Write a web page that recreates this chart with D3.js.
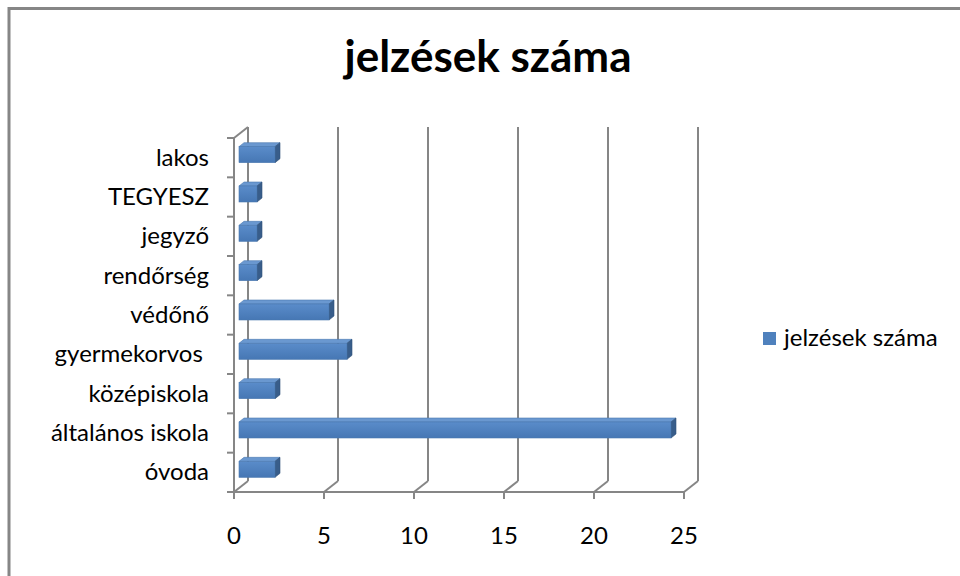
<!DOCTYPE html>
<html>
<head>
<meta charset="utf-8">
<script src="https://cdn.jsdelivr.net/npm/d3@7"></script>
<style>
  body { margin: 0; background: #fff; }
  text { font-family: Lato, "Open Sans", sans-serif; fill: #000; }
</style>
</head>
<body>
<div id="chart"></div>
<script>
// Categories from bottom to top, as Excel lists them
const categories = ['óvoda', 'általános iskola', 'középiskola', 'gyermekorvos ', 'védőnő',
  'rendőrség', 'jegyző', 'TEGYESZ', 'lakos'];
const values = [2, 24, 2, 6, 5, 1, 1, 1, 2];
const xTicks = [0, 5, 10, 15, 20, 25];
const seriesName = 'jelzések száma';

const width = 960, height = 576;
const gridColor = '#868686';

const svg = d3.select('#chart').append('svg')
  .attr('width', width)
  .attr('height', height);

// Outer chart frame (right/bottom edges fall off the picture)
svg.append('rect')
  .attr('x', 9).attr('y', 8.5)
  .attr('width', 1000).attr('height', 1000)
  .attr('fill', 'none')
  .attr('stroke', gridColor)
  .attr('stroke-width', 3);

// Scales
const x = d3.scaleLinear().domain([0, 25]).range([234, 684]);
const y = d3.scaleBand().domain(categories).range([492, 138]);

// 3D depth offset of the back wall
const dx = 14, dy = -11;
const yTop = y.range()[1], yBottom = y.range()[0];

const grid = svg.append('g')
  .attr('stroke', gridColor)
  .attr('stroke-width', 2)
  .attr('fill', 'none');

// Back wall gridlines and floor diagonals
xTicks.forEach(t => {
  grid.append('line')
    .attr('x1', x(t) + dx).attr('y1', yTop + dy)
    .attr('x2', x(t) + dx).attr('y2', yBottom + dy);
  grid.append('line')
    .attr('x1', x(t)).attr('y1', yBottom)
    .attr('x2', x(t) + dx).attr('y2', yBottom + dy);
});

// Left wall front edge and top diagonal
grid.append('line')
  .attr('x1', x(0)).attr('y1', yTop)
  .attr('x2', x(0)).attr('y2', yBottom);
grid.append('line')
  .attr('x1', x(0)).attr('y1', yTop)
  .attr('x2', x(0) + dx).attr('y2', yTop + dy);

// Floor front edge
grid.append('line')
  .attr('x1', x(0) - 7).attr('y1', yBottom)
  .attr('x2', x(25)).attr('y2', yBottom);

// Category ticks on the left wall
categories.forEach(c => {
  grid.append('line')
    .attr('x1', x(0) - 7).attr('y1', y(c))
    .attr('x2', x(0)).attr('y2', y(c));
});

// Value ticks below the floor
xTicks.forEach(t => {
  grid.append('line')
    .attr('x1', x(t)).attr('y1', yBottom)
    .attr('x2', x(t)).attr('y2', yBottom + 7);
});

// Value tick labels
svg.append('g').selectAll('text')
  .data(xTicks)
  .enter().append('text')
  .attr('x', d => x(d))
  .attr('y', 544)
  .attr('text-anchor', 'middle')
  .style('font-size', '24px')
  .text(d => d);

// Category labels
svg.append('g').selectAll('text')
  .data(categories)
  .enter().append('text')
  .attr('x', 209)
  .attr('y', d => y(d) + y.bandwidth() / 2 + 8)
  .attr('text-anchor', 'end')
  .style('font-size', '24px')
  .style('white-space', 'pre')
  .text(d => d);

// Gradients for the 3D bars
const defs = svg.append('defs');
const front = defs.append('linearGradient')
  .attr('id', 'barFront').attr('x1', 0).attr('y1', 0).attr('x2', 0).attr('y2', 1);
front.append('stop').attr('offset', '0%').attr('stop-color', '#5a8cca');
front.append('stop').attr('offset', '100%').attr('stop-color', '#4677b4');

// Bars
const bw = 16, ox = 5, bdx = 5, bdy = -4;
const data = categories.map((c, i) => ({ cat: c, value: values[i] }));

const bars = svg.append('g').selectAll('g')
  .data(data)
  .enter().append('g');

const barY = d => y(d.cat) + y.bandwidth() / 2 - 11;

// top face
bars.append('polygon')
  .attr('points', d => {
    const x0 = x(0) + ox, x1 = x(d.value) + ox, y0 = barY(d);
    return [[x0, y0], [x1, y0], [x1 + bdx, y0 + bdy], [x0 + bdx, y0 + bdy]].join(' ');
  })
  .attr('fill', '#6a98d0')
  .attr('stroke', '#4a78b0')
  .attr('stroke-width', 0.6);

// side face
bars.append('polygon')
  .attr('points', d => {
    const x1 = x(d.value) + ox, y0 = barY(d);
    return [[x1, y0], [x1 + bdx, y0 + bdy], [x1 + bdx, y0 + bdy + bw], [x1, y0 + bw]].join(' ');
  })
  .attr('fill', '#385d8a')
  .attr('stroke', '#2f5078')
  .attr('stroke-width', 0.6);

// front face
bars.append('rect')
  .attr('x', x(0) + ox)
  .attr('y', d => barY(d))
  .attr('width', d => x(d.value) - x(0))
  .attr('height', bw)
  .attr('fill', 'url(#barFront)')
  .attr('stroke', '#4a78b0')
  .attr('stroke-width', 0.6);

// Title
svg.append('text')
  .attr('x', 488)
  .attr('y', 72)
  .attr('text-anchor', 'middle')
  .style('font-size', '44px')
  .style('font-weight', 'bold')
  .text(seriesName);

// Legend
const legend = svg.append('g');
legend.append('rect')
  .attr('x', 763).attr('y', 332)
  .attr('width', 13).attr('height', 13)
  .attr('fill', '#4f81bd');
legend.append('text')
  .attr('x', 784)
  .attr('y', 346)
  .style('font-size', '24px')
  .text(seriesName);
</script>
</body>
</html>
